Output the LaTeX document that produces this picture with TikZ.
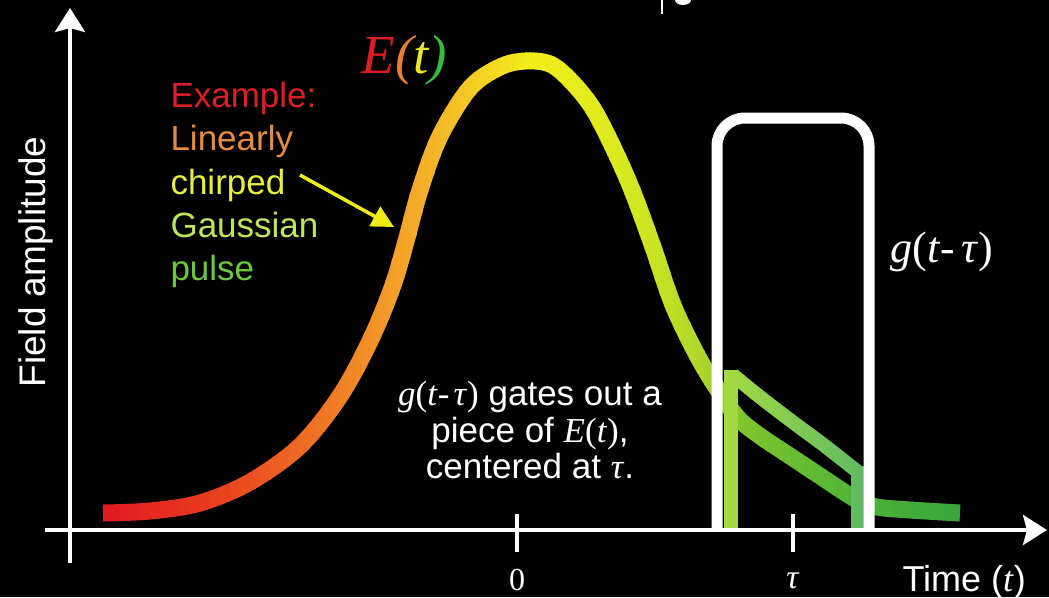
\documentclass[tikz,border=0pt]{standalone}
\usepackage{fontspec}
\setmainfont{Liberation Serif}
\newfontfamily\arial{Liberation Sans}
\usetikzlibrary{arrows.meta}
\definecolor{cA}{RGB}{225,25,35}
\definecolor{cB}{RGB}{232,55,30}
\definecolor{cC}{RGB}{238,105,35}
\definecolor{cD}{RGB}{243,150,40}
\definecolor{cE}{RGB}{245,185,40}
\definecolor{cF}{RGB}{245,215,35}
\definecolor{cG}{RGB}{242,238,25}
\definecolor{cH}{RGB}{225,235,30}
\definecolor{cI}{RGB}{205,228,35}
\definecolor{cJ}{RGB}{175,215,45}
\definecolor{cK}{RGB}{125,197,45}
\definecolor{cL}{RGB}{78,178,55}
\definecolor{cM}{RGB}{55,165,60}
\definecolor{gL}{RGB}{165,220,65}
\definecolor{gR}{RGB}{95,185,100}
\definecolor{Ered}{RGB}{220,30,35}
\definecolor{Eorange}{RGB}{230,130,50}
\definecolor{Eyellow}{RGB}{235,230,40}
\definecolor{Egreen}{RGB}{50,190,60}
\definecolor{exred}{RGB}{220,30,40}
\definecolor{exorange}{RGB}{230,140,60}
\definecolor{exyellow}{RGB}{230,240,60}
\definecolor{exyg}{RGB}{190,230,90}
\definecolor{exgreen}{RGB}{110,200,60}
\definecolor{arrowyellow}{RGB}{240,235,20}
\newcommand\maincurve{plot[smooth, tension=0.55] coordinates {(103,513) (150,511) (200,503) (250,482) (300,446) (340,396) (370,341) (392,288) (405,245) (420,190) (440,136) (470,88) (500,67) (525,61) (550,64) (570,80) (592,107) (612,145) (632,190) (653,247) (673,305) (697,355) (718,390) (738,418) (760,436) (790,456) (820,476) (857,500) (877,507) (910,510) (960,513)}}
\newcommand\copycurve{plot[smooth] coordinates {(733,375) (760,397) (790,420) (825,446) (858,472)}}
\newcommand\gtau{{\rmfamily\textit{g}(\textit{t}-\hspace{0.12em}\textit{τ})}}
\tikzset{
  axisline/.style={white, line width=4pt},
  tickline/.style={white, line width=4pt},
  gateline/.style={white, line width=11pt, rounded corners=28pt},
  bandline/.style={line width=17pt},
  copyline/.style={line width=14pt},
  extext/.style={anchor=base west, font=\arial\fontsize{35}{40}\selectfont},
  ctext/.style={anchor=base, white, font=\arial\fontsize{35}{37}\selectfont},
}
\begin{document}
\begin{tikzpicture}[x=1pt, y=-1pt]
\useasboundingbox (0,0) rectangle (1049,597);
\fill[black] (0,0) rectangle (1049,597);
% cropped fragment at top
\draw[white, line width=2.5pt] (662,0) -- (662,14);
\fill[white] (683,0) ellipse [x radius=8, y radius=5];
% axes
\coordinate (xstart) at (45,530);
\coordinate (xend) at (1047,530);
\coordinate (ystart) at (70,563);
\coordinate (yend) at (70,8);
\draw[axisline, -{Stealth[length=24pt, width=30pt, inset=4pt]}] (xstart) -- (xend);
\draw[axisline, -{Stealth[length=24pt, width=30pt, inset=4pt]}] (ystart) -- (yend);
\coordinate (t0a) at (517,514); \coordinate (t0b) at (517,552);
\coordinate (tta) at (793,514); \coordinate (ttb) at (793,552);
\draw[tickline] (t0a) -- (t0b);
\draw[tickline] (tta) -- (ttb);
% main curve with colour gradient along x
\foreach \xa/\xb/\ca/\cb in {100/200/cA/cB, 200/300/cB/cC, 300/380/cC/cD, 380/440/cD/cE, 440/490/cE/cF, 490/530/cF/cG, 530/600/cG/cH, 600/650/cH/cI, 650/700/cI/cJ, 700/745/cJ/cK, 745/860/cK/cL, 860/965/cL/cM}{
  \foreach \k in {0,...,9}{
    \pgfmathsetmacro\xs{\xa+\k*(\xb-\xa)/10-0.3}
    \pgfmathsetmacro\xe{\xa+(\k+1)*(\xb-\xa)/10+0.3}
    \pgfmathsetmacro\p{100*(\k+0.5)/10}
    \begin{scope}
      \clip (\xs,-10) rectangle (\xe,610);
      \draw[bandline, color=\cb!\p!\ca] \maincurve;
    \end{scope}
  }
}
% gated piece
\foreach \k in {0,...,19}{
  \pgfmathsetmacro\xs{723+\k*143/20-0.3}
  \pgfmathsetmacro\xe{723+(\k+1)*143/20+0.3}
  \pgfmathsetmacro\p{100*(\k+0.5)/20}
  \begin{scope}
    \clip (\xs,-10) rectangle (\xe,610);
    \draw[copyline, color=gR!\p!gL] (731,528) -- (731,370);
    \draw[copyline, color=gR!\p!gL] (858,528) -- (858,466);
    \draw[copyline, color=gR!\p!gL] \copycurve;
  \end{scope}
}
% gate g(t-tau)
\coordinate (g1) at (717,528);
\coordinate (g2) at (717,118);
\coordinate (g3) at (869,118);
\coordinate (g4) at (869,528);
\draw[gateline] (g1) -- (g2) -- (g3) -- (g4);
% labels
\node[rotate=90, anchor=base, white, font=\arial\fontsize{37}{40}\selectfont] (ylabel) at (45,262) {Field amplitude};
\node[anchor=base west, font=\itshape\fontsize{55}{57}\selectfont] (Elabel) at (358,73) {\textcolor{Ered}{E}\textcolor{Eorange}{(}\textcolor{Eyellow}{t}\textcolor{Egreen}{)}};
\node[extext, text=exred] (ex1) at (167,107) {Example:};
\node[extext, text=exorange] (ex2) at (167,150) {Linearly};
\node[extext, text=exyellow] (ex3) at (167,194) {chirped};
\node[extext, text=exyg] (ex4) at (167,237) {Gaussian};
\node[extext, text=exgreen] (ex5) at (167,280) {pulse};
\coordinate (arrs) at (300,175);
\coordinate (arre) at (394,227);
\draw[arrowyellow, line width=3.5pt, -{Triangle[length=22pt, width=22pt]}] (arrs) -- (arre);
\node[ctext] (c1) at (530,405) {\gtau{} gates out a};
\node[ctext] (c2) at (530,442) {piece of {\rmfamily\textit{E}(\textit{t})},};
\node[ctext] (c3) at (530,478) {centered at {\rmfamily\textit{τ}}.};
\node[anchor=base west, white, font=\fontsize{44}{46}\selectfont] (glabel) at (887,262) {\textit{g}(\textit{t}-\hspace{0.15em}\textit{τ})};
\node[anchor=base, white, font=\fontsize{32}{34}\selectfont] (zero) at (517,590) {0};
\node[anchor=base, white, font=\fontsize{34}{36}\selectfont] (taulab) at (793,588) {\textit{τ}};
\node[anchor=base west, white, font=\arial\fontsize{36}{38}\selectfont] (tlabel) at (899,591) {Time ({\rmfamily\textit{t}})};
\end{tikzpicture}
\end{document}
